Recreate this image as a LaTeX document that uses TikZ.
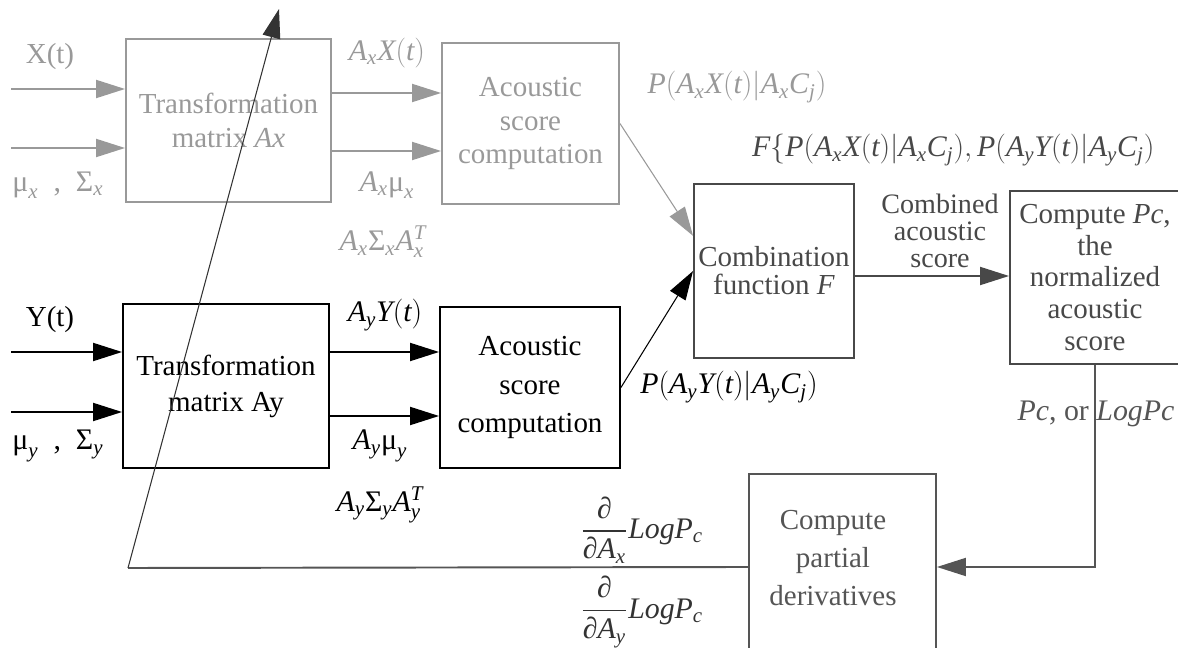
\RequirePackage{fix-cm}
\documentclass[tikz,border=0pt]{standalone}
\usepackage{amsmath}
\usepackage{fontspec}
\setmainfont{Liberation Serif}
\usepackage{tikz}
\usetikzlibrary{arrows.meta,calc}
\definecolor{xbranch}{RGB}{153,153,153}
\definecolor{combgray}{RGB}{72,72,72}
\definecolor{fbgray}{RGB}{85,85,85}
\newcommand{\gk}[1]{\text{#1}}
\newcommand{\iv}[1]{\mathit{#1}}
\newcommand{\fsz}[1]{\fontsize{16.5}{#1}\selectfont}

\begin{document}
\begin{tikzpicture}[x=0.02cm,y=-0.02cm,font=\fsz{19},
  blk/.style={draw,line width=1.1pt,inner sep=0pt,align=center},
  lbl/.style={font=\fontsize{17}{20}\selectfont,inner sep=1pt},
  arw/.style={line width=1.1pt,-{Triangle[length=0.58cm,width=0.36cm]}},
  thinarw/.style={line width=0.6pt,-{Triangle[length=0.58cm,width=0.36cm]}}]
\useasboundingbox (0,0) rectangle (1178,648);

% x branch (grey)
\node[blk,xbranch,font=\fsz{19},minimum width=4.1cm,minimum height=3.26cm] (tax) at (228.5,120.5) {Transformation\\matrix \textit{Ax}};
\node[blk,xbranch,font=\fsz{19.3},minimum width=3.54cm,minimum height=3.22cm] (acx) at (530.5,123.5) {Acoustic\\score\\computation};
\coordinate (xin) at (11,89);
\coordinate (muxin) at (11,148);
\coordinate (axrow) at (0,93);
\coordinate (amxrow) at (0,151);
\draw[arw,xbranch] (xin) -- (xin -| tax.west);
\draw[arw,xbranch] (muxin) -- (muxin -| tax.west);
\draw[arw,xbranch] (axrow -| tax.east) -- (axrow -| acx.west);
\draw[arw,xbranch] (amxrow -| tax.east) -- (amxrow -| acx.west);
\node[xbranch] (lxt) at (50,57) {X(t)};
\node[xbranch,lbl] (lmux) at (58,185) {$\gk{μ}_{\iv{x}}$ \ , \ $\gk{Σ}_{\iv{x}}$};
\node[xbranch,lbl] (laxt) at (387,53) {$\iv{A_xX(t)}$};
\node[xbranch,lbl] (lamx) at (387,185) {$\iv{A_x}\gk{μ}_{\iv{x}}$};
\node[xbranch,lbl] (lasx) at (383,242) {$\iv{A_x}\gk{Σ}_{\iv{x}}\iv{A_x^T}$};
\node[xbranch,lbl] (lpx) at (737,87) {$\iv{P(A_xX(t)|A_xC_j)}$};

% y branch
\node[blk,minimum width=4.12cm,minimum height=3.28cm,font=\fsz{20.5}] (tay) at (226,386) {Transformation\\matrix Ay};
\node[blk,minimum width=3.6cm,minimum height=3.22cm,font=\fsz{21.9}] (acy) at (530,387.5) {Acoustic\\score\\computation};
\coordinate (yin) at (11,352);
\coordinate (muyin) at (11,412);
\coordinate (ayrow) at (0,352);
\coordinate (amyrow) at (0,416);
\draw[arw] (yin) -- (yin -| tay.west);
\draw[arw] (muyin) -- (muyin -| tay.west);
\draw[arw] (ayrow -| tay.east) -- (ayrow -| acy.west);
\draw[arw] (amyrow -| tay.east) -- (amyrow -| acy.west);
\node (lyt) at (50,320) {Y(t)};
\node[lbl] (lmuy) at (58,446) {$\gk{μ}_{\iv{y}}$ \ , \ $\gk{Σ}_{\iv{y}}$};
\node[lbl] (layt) at (385,315) {$\iv{A_yY(t)}$};
\node[lbl] (lamy) at (380,446) {$\iv{A_y}\gk{μ}_{\iv{y}}$};
\node[lbl] (lasy) at (380,505) {$\iv{A_y}\gk{Σ}_{\iv{y}}\iv{A_y^T}$};
\node[lbl] (lpy) at (729,387) {$\iv{P(A_yY(t)|A_yC_j)}$};

% combination and normalisation
\node[blk,combgray,minimum width=3.2cm,minimum height=3.48cm,font=\fsz{16}] (comb) at (774,271) {Combination\\function \textit{F}};
\node[blk,combgray,minimum width=3.4cm,minimum height=3.46cm,font=\fsz{18}] (cpc) at (1095,277.5) {Compute \textit{Pc},\\the\\normalized\\acoustic\\score};
\draw[line width=0.6pt,xbranch,-{Triangle[length=0.58cm,width=0.36cm]}] (acx.east) -- ($(comb.north west)!0.3!(comb.south west)$);
\draw[thinarw] (acy.east) -- (comb.west);
\coordinate (csrow) at (0,276);
\draw[arw,combgray] (csrow -| comb.east) -- (csrow -| cpc.west);
\node[combgray,font=\fontsize{16}{15.5}\selectfont,align=center,inner sep=1pt] (lcs) at (940,231) {Combined\\acoustic\\score};
\begin{scope}
\clip (700,120) rectangle (1153,180);
\node[combgray,lbl,anchor=west] (lfun) at (750,150) {$\iv{F\{P(A_xX(t)|A_xC_j), P(A_yY(t)|A_yC_j)\}}$};
\end{scope}

% feedback through partial derivatives
\node[blk,fbgray,minimum width=3.74cm,minimum height=3.72cm] (pdv) at (842.5,567) {};
\node[fbgray,align=center,font=\fsz{21.6}] (pdvtxt) at (833,558) {Compute\\partial\\derivatives};
\draw[arw,fbgray] (cpc.south) |- (pdv.east);
\node[fbgray,lbl] (lpc) at (1096,414) {\textit{Pc}, or \textit{LogPc}};
\coordinate (fbk) at (128,568);
\coordinate (fbtip) at (279,9);
\draw[line width=1.1pt,fbgray] (pdv.west) -- (fbk);
\draw[thinarw,black!80] (fbk) -- (fbtip);
\node[black!80,lbl] (ldx) at (642,530) {$\dfrac{\gk{∂}}{\gk{∂}\iv{A_x}}\iv{LogP_c}$};
\node[black!80,lbl] (ldy) at (642,612) {$\dfrac{\gk{∂}}{\gk{∂}\iv{A_y}}\iv{LogP_c}$};
\end{tikzpicture}
\end{document}
